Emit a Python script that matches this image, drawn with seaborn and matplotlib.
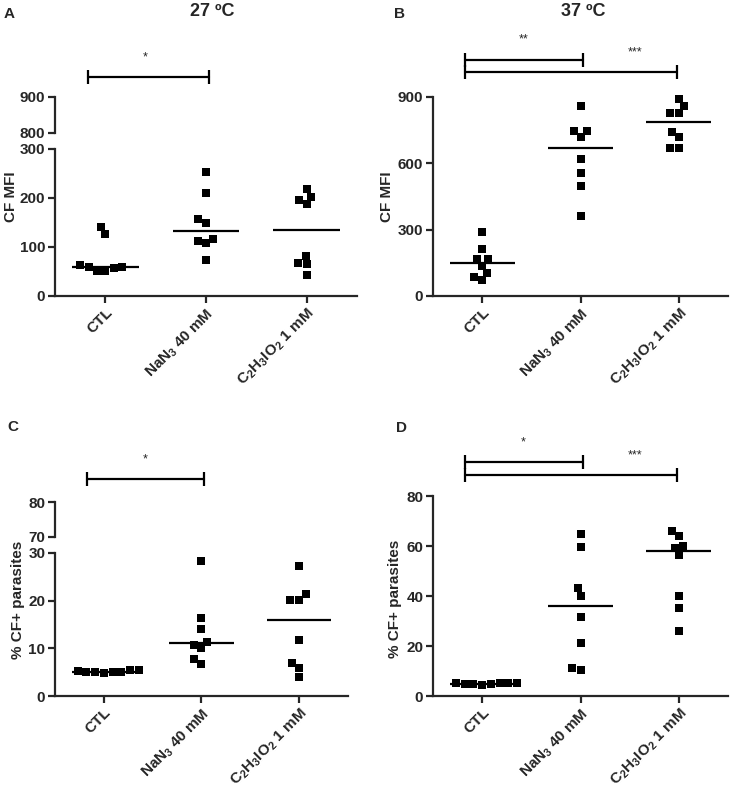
import numpy as np
import pandas as pd
import matplotlib
matplotlib.use('Agg')
import matplotlib.pyplot as plt
import seaborn as sns

sns.set_style('ticks')
plt.rcParams['font.family'] = ['Liberation Sans', 'DejaVu Sans']
plt.rcParams['font.weight'] = 'bold'
plt.rcParams['mathtext.fontset'] = 'custom'
plt.rcParams['mathtext.rm'] = 'Liberation Sans:bold'
plt.rcParams['mathtext.bf'] = 'Liberation Sans:bold'
plt.rcParams['mathtext.default'] = 'bf'

# groups / tick labels
groups = ['CTL', 'NaN$_3$ 40 mM', 'C$_2$H$_3$IO$_2$ 1 mM']

# A: CF MFI at 27 ºC
ctl_a = [141, 126, 60, 57, 52, 63, 52, 59]
nan3_a = [253, 210, 149, 157, 113, 108, 117, 74]
c2_a = [203, 218, 188, 196, 68, 82, 65, 43]
# B: CF MFI at 37 ºC
ctl_b = [290, 211, 166, 166, 137, 102, 87, 72]
nan3_b = [858, 745, 745, 719, 619, 557, 497, 361]
c2_b = [891, 858, 829, 829, 719, 742, 670, 670]
# C: % CF+ parasites at 27 ºC
ctl_c = [5.1, 5.1, 5.4, 4.9, 5.1, 5.1, 5.4, 5.3]
nan3_c = [28.3, 16.4, 14.0, 10.8, 11.4, 10.0, 7.7, 6.8]
c2_c = [27.3, 20.2, 20.2, 21.3, 11.7, 7.0, 5.9, 4.0]
# D: % CF+ parasites at 37 ºC
ctl_d = [5.1, 4.7, 5.1, 4.4, 5.1, 4.7, 5.3, 4.8]
nan3_d = [64.7, 59.7, 43.3, 40.1, 31.7, 21.1, 10.4, 11.3]
c2_d = [66.0, 64.0, 59.3, 60.1, 56.4, 40.1, 35.3, 26.1]

W, H = 737, 789
fig = plt.figure(figsize=(W / 100, H / 100), dpi=100)


def add_axes(left, top, right, bottom):
    return fig.add_axes([left / W, 1 - bottom / H, (right - left) / W, (bottom - top) / H])


def style(ax):
    for s in ['top', 'right']:
        ax.spines[s].set_visible(False)
    for s in ['left', 'bottom']:
        ax.spines[s].set_linewidth(1.6)
    ax.tick_params(width=1.6, length=5, labelsize=11, pad=2)
    for t in ax.get_yticklabels():
        t.set_fontweight('bold')


def dot_plot(ax, series):
    df = pd.DataFrame({'group': np.repeat(groups, [len(s) for s in series]),
                       'value': np.concatenate(series)})
    sns.swarmplot(data=df, x='group', y='value', order=groups, marker='s',
                  color='black', size=6, linewidth=0, ax=ax, zorder=3)
    for i, vals in enumerate(series):
        ax.hlines(np.median(vals), i - 0.33, i + 0.33, color='black', lw=1.6, zorder=4)
    ax.set_xlim(-0.5, 2.5)
    ax.set_xlabel('')
    ax.set_xticks([0, 1, 2])
    ax.set_xticklabels(groups, rotation=45, ha='right', rotation_mode='anchor',
                       fontsize=11, fontweight='bold')


def bracket(ax, x0, x1, y):
    ax.plot([x0, x1], [y, y], color='black', lw=1.6, marker='|', markersize=10,
            mew=1.6, clip_on=False)


def stars(ax, x, y, txt):
    ax.text(x, y, txt, ha='center', va='center', fontsize=9, fontweight='normal')


def top_segment(left, top, right, bottom, lo, hi, ticks):
    ax = add_axes(left, top, right, bottom)
    ax.set_xlim(-0.5, 2.5)
    ax.set_ylim(lo, hi)
    ax.set_yticks(ticks)
    ax.spines['bottom'].set_visible(False)
    ax.spines['left'].set_bounds(ticks[0], ticks[-1])
    ax.set_xticks([])
    ax.patch.set_visible(False)
    style(ax)
    return ax


# ---- A ----
ax_a = add_axes(55, 149, 357, 296)
dot_plot(ax_a, [ctl_a, nan3_a, c2_a])
ax_a.set_ylim(0, 300)
ax_a.set_yticks([0, 100, 200, 300])
ax_a.spines['left'].set_bounds(0, 300)
style(ax_a)
ax_a.set_ylabel('CF MFI', fontsize=11, fontweight='bold', va='center')
ax_a.yaxis.set_label_coords(-0.146, 0.677)
ax_a_top = top_segment(55, 40, 357, 133, 800, 1058, [800, 900])
bracket(ax_a_top, -0.17, 1.03, 955)
stars(ax_a_top, 0.4, 1010, '*')

# ---- B ----
ax_b = add_axes(433, 30, 728, 296)
dot_plot(ax_b, [ctl_b, nan3_b, c2_b])
ax_b.set_ylim(0, 1203)
ax_b.set_yticks([0, 300, 600, 900])
ax_b.spines['left'].set_bounds(0, 900)
style(ax_b)
ax_b.set_ylabel('CF MFI', fontsize=11, fontweight='bold', va='center')
ax_b.yaxis.set_label_coords(-0.156, 0.374)
bracket(ax_b, -0.17, 1.03, 1066)
bracket(ax_b, -0.17, 1.98, 1013)
stars(ax_b, 0.42, 1160, '**')
stars(ax_b, 1.55, 1100, '***')

# ---- C ----
ax_c = add_axes(55, 553, 348, 696)
dot_plot(ax_c, [ctl_c, nan3_c, c2_c])
ax_c.set_ylim(0, 30)
ax_c.set_yticks([0, 10, 20, 30])
ax_c.spines['left'].set_bounds(0, 30)
style(ax_c)
ax_c.set_ylabel('% CF+ parasites', fontsize=11, fontweight='bold', va='center')
ax_c.yaxis.set_label_coords(-0.125, 0.671)
ax_c_top = top_segment(55, 440, 348, 537, 70, 98, [70, 80])
bracket(ax_c_top, -0.17, 1.03, 86.8)
stars(ax_c_top, 0.42, 92.5, '*')

# ---- D ----
ax_d = add_axes(433, 430, 728, 696)
dot_plot(ax_d, [ctl_d, nan3_d, c2_d])
ax_d.set_ylim(0, 106.4)
ax_d.set_yticks([0, 20, 40, 60, 80])
ax_d.spines['left'].set_bounds(0, 80)
style(ax_d)
ax_d.set_ylabel('% CF+ parasites', fontsize=11, fontweight='bold', va='center')
ax_d.yaxis.set_label_coords(-0.129, 0.365)
bracket(ax_d, -0.17, 1.03, 93.5)
bracket(ax_d, -0.17, 1.98, 88.4)
stars(ax_d, 0.42, 101.5, '*')
stars(ax_d, 1.55, 96.2, '***')

# titles and panel letters
fig.text(212 / W, 1 - 12 / H, '27 ºC', ha='center', va='center', fontsize=13, fontweight='bold')
fig.text(583 / W, 1 - 12 / H, '37 ºC', ha='center', va='center', fontsize=13, fontweight='bold')
for letter, x, y in [('A', 4, 14), ('B', 394, 14), ('C', 7, 427), ('D', 396, 428)]:
    fig.text(x / W, 1 - y / H, letter, ha='left', va='center', fontsize=11, fontweight='bold')

fig.savefig('out.png', dpi=100)
